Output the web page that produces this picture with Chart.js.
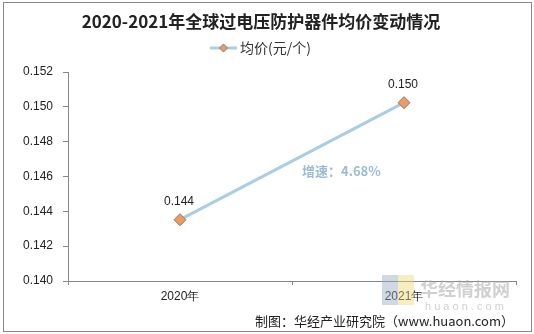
<!DOCTYPE html>
<html>
<head>
<meta charset="utf-8">
<script src="https://cdn.jsdelivr.net/npm/chart.js@4.4.0/dist/chart.umd.min.js"></script>
<style>
  body { margin: 0; background: #fff; }
  #wrap { width: 534px; height: 334px; position: relative; }
</style>
</head>
<body>
<div id="wrap"><canvas id="priceChart" width="534" height="334"></canvas></div>
<script>
// data
var years = ['2020年', '2021年'];
var avgPrice = [0.14352, 0.15024];
var yTicks = [0.140, 0.142, 0.144, 0.146, 0.148, 0.150, 0.152];
var titleText = '2020-2021年全球过电压防护器件均价变动情况';
var seriesName = '均价(元/个)';
var growthText = '增速：4.68%';
var sourceText = '制图：华经产业研究院（www.huaon.com）';

var lineColor = '#a9cde4';
var markerColor = '#ee9a63';

// title, legend, labels, footer and frame drawn by hand
var extras = {
  id: 'extras',
  afterDraw: function(chart) {
    var ctx = chart.ctx;
    var meta = chart.getDatasetMeta(0);
    ctx.save();

    // frame
    ctx.strokeStyle = '#8a8a8a';
    ctx.lineWidth = 1;
    ctx.strokeRect(3.5, 2.5, 528, 329);

    // title
    ctx.fillStyle = '#222';
    ctx.font = 'bold 17px "Noto Sans CJK SC"';
    ctx.textAlign = 'center';
    ctx.textBaseline = 'middle';
    ctx.fillText(titleText, 261, 22);

    // legend
    ctx.strokeStyle = lineColor;
    ctx.lineWidth = 3;
    ctx.beginPath();
    ctx.moveTo(210, 48);
    ctx.lineTo(237, 48);
    ctx.stroke();
    drawDiamond(ctx, 223.5, 48, 4);
    ctx.fillStyle = '#333';
    ctx.font = '14px "Noto Sans CJK SC"';
    ctx.textAlign = 'left';
    ctx.fillText(seriesName, 240, 48);

    // value labels
    ctx.font = '12px "Liberation Sans"';
    ctx.textAlign = 'center';
    ctx.fillStyle = '#222';
    meta.data.forEach(function(pt, i) {
      ctx.fillText(avgPrice[i].toFixed(3), pt.x - 1, pt.y - 18);
    });

    // growth note
    ctx.font = 'bold 13px "Noto Sans CJK SC"';
    ctx.fillStyle = '#9bbad6';
    ctx.textAlign = 'left';
    ctx.fillText(growthText, 302, 171);

    // watermark
    ctx.fillStyle = 'rgba(150,170,190,0.45)';
    ctx.fillRect(382, 275, 16, 30);
    ctx.fillStyle = 'rgba(240,215,120,0.45)';
    ctx.fillRect(398, 275, 16, 30);
    ctx.font = 'bold 18px "Noto Sans CJK SC"';
    ctx.fillStyle = 'rgba(170,170,170,0.55)';
    ctx.fillText('华经情报网', 420, 289);
    ctx.font = '11px "Liberation Sans"';
    ctx.fillText('h u a o n . c o m', 425, 307);

    // footer
    ctx.fillStyle = '#222';
    ctx.font = '13px "Noto Sans CJK SC"';
    ctx.textAlign = 'right';
    ctx.fillText(sourceText, 514, 321);

    ctx.restore();
  }
};

function drawDiamond(ctx, x, y, r) {
  ctx.beginPath();
  ctx.moveTo(x, y - r);
  ctx.lineTo(x + r, y);
  ctx.lineTo(x, y + r);
  ctx.lineTo(x - r, y);
  ctx.closePath();
  ctx.fillStyle = markerColor;
  ctx.fill();
  ctx.strokeStyle = '#8a7a70';
  ctx.lineWidth = 1;
  ctx.stroke();
}

var priceChart = document.getElementById('priceChart').getContext('2d');
new Chart(priceChart, {
  type: 'line',
  data: {
    labels: years,
    datasets: [{
      label: seriesName,
      data: avgPrice,
      borderColor: lineColor,
      borderWidth: 3,
      pointStyle: 'rectRot',
      pointRadius: 6,
      pointBackgroundColor: markerColor,
      pointBorderColor: '#8a7a70',
      pointBorderWidth: 1,
      tension: 0
    }]
  },
  options: {
    responsive: false,
    animation: false,
    layout: { padding: { top: 72, right: 18, left: 0, bottom: 0 } },
    plugins: {
      legend: { display: false },
      title: { display: false },
      tooltip: { enabled: false }
    },
    scales: {
      x: {
        offset: true,
        afterFit: function(scale) { scale.height = 53; },
        grid: { offset: true, drawOnChartArea: false, color: '#888', tickLength: 4 },
        border: { color: '#888' },
        ticks: { color: '#222', font: { size: 12, family: 'Liberation Sans' }, padding: 4 }
      },
      y: {
        min: yTicks[0],
        max: yTicks[yTicks.length - 1],
        afterFit: function(scale) { scale.width = 68; },
        afterBuildTicks: function(scale) {
          scale.ticks = yTicks.map(function(v) { return { value: v }; });
        },
        grid: { drawOnChartArea: false, color: '#888', tickLength: 5 },
        border: { color: '#888' },
        ticks: {
          color: '#222',
          padding: 10,
          font: { size: 12, family: 'Liberation Sans' },
          callback: function(v) { return v.toFixed(3); }
        }
      }
    }
  },
  plugins: [extras]
});
</script>
</body>
</html>
